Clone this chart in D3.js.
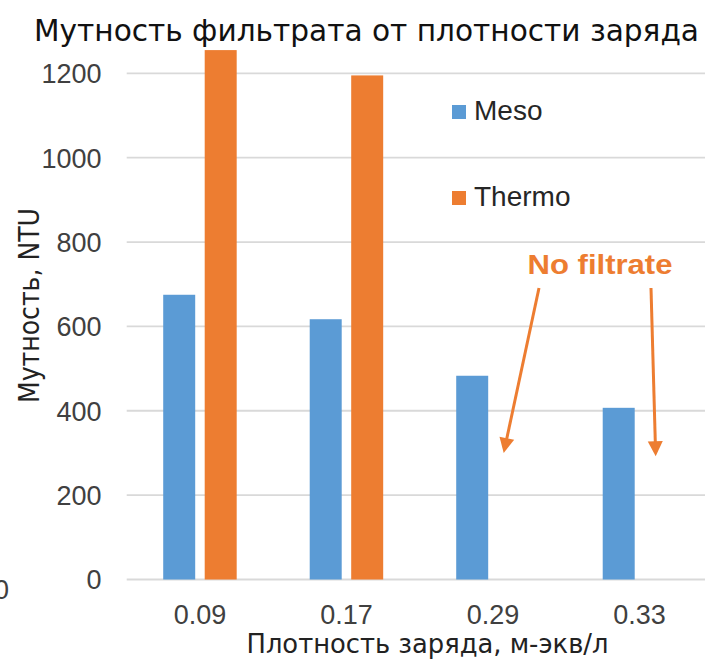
<!DOCTYPE html>
<html>
<head>
<meta charset="utf-8">
<script src="https://cdn.jsdelivr.net/npm/d3@7"></script>
<style>
html,body{margin:0;padding:0;background:#fff;}
svg{display:block;}
</style>
</head>
<body>
<svg id="chart" width="705" height="660"></svg>
<script>
// ---- data ----
const categories = ["0.09", "0.17", "0.29", "0.33"];
const seriesNames = ["Meso", "Thermo"];
const mesoValues = [675, 617, 483, 407];
const thermoValues = [1255, 1195, null, null];
const yTicks = [0, 200, 400, 600, 800, 1000, 1200];
const titleText = "Мутность фильтрата от плотности заряда";
const xTitleText = "Плотность заряда, м-экв/л";
const yTitleText = "Мутность, NTU";
const noteText = "No filtrate";
const colors = {Meso: "#5B9BD5", Thermo: "#ED7D31"};

const svg = d3.select("#chart");
const W = 705, H = 660;
const plotLeft = 126.7, plotRight = 712.7, yZero = 579.5, yTop = 73.3;

const x = d3.scaleBand().domain(categories).range([plotLeft, plotRight]).paddingInner(0).paddingOuter(0);
const xs = d3.scaleBand().domain(seriesNames).range([0, x.bandwidth()]).paddingInner(0.229).paddingOuter(0.88);
const y = d3.scaleLinear().domain([0, 1200]).range([yZero, yTop]);

// gridlines
svg.append("g").selectAll("line").data(yTicks).join("line")
  .attr("x1", plotLeft).attr("x2", W)
  .attr("y1", d => y(d)).attr("y2", d => y(d))
  .attr("stroke", "#d9d9d9").attr("stroke-width", 1.8);

// y axis labels
const yAxis = d3.axisLeft(y).tickValues(yTicks).tickSize(0).tickPadding(0).tickFormat(d3.format("d"));
const gy = svg.append("g").attr("transform", `translate(101.5,0)`).call(yAxis);
gy.select(".domain").remove();
gy.selectAll("text").attr("font-family", "Liberation Sans, Arial, sans-serif")
  .attr("font-size", 27).attr("fill", "#404040").attr("dy", "0.35em");

// x axis labels
const xAxis = d3.axisBottom(x).tickSize(0).tickPadding(0);
const gx = svg.append("g").attr("transform", `translate(0,${yZero})`).call(xAxis);
gx.select(".domain").remove();
gx.selectAll("text").attr("font-family", "Liberation Sans, Arial, sans-serif")
  .attr("font-size", 27).attr("fill", "#404040").attr("dy", null).attr("y", 44.5);

// bars
const rows = [];
categories.forEach((c, i) => {
  rows.push({cat: c, s: "Meso", v: mesoValues[i]});
  rows.push({cat: c, s: "Thermo", v: thermoValues[i]});
});
svg.append("g").selectAll("rect").data(rows.filter(d => d.v != null)).join("rect")
  .attr("x", d => x(d.cat) + xs(d.s))
  .attr("width", xs.bandwidth())
  .attr("y", d => y(d.v))
  .attr("height", d => y(0) - y(d.v))
  .attr("fill", d => colors[d.s]);

// title
svg.append("text").attr("x", 366.5).attr("y", 41).attr("text-anchor", "middle")
  .attr("font-family", "Liberation Sans Narrow, DejaVu Sans Condensed, sans-serif")
  .attr("font-size", 31).attr("fill", "#111")
  .attr("textLength", 665).attr("lengthAdjust", "spacingAndGlyphs")
  .text(titleText);

// x title
svg.append("text").attr("x", 427.5).attr("y", 653).attr("text-anchor", "middle")
  .attr("font-family", "Liberation Sans Narrow, DejaVu Sans Condensed, sans-serif")
  .attr("font-size", 27).attr("fill", "#222")
  .attr("textLength", 362).attr("lengthAdjust", "spacingAndGlyphs")
  .text(xTitleText);

// y title
svg.append("text").attr("transform", "translate(39,305.5) rotate(-90)").attr("text-anchor", "middle")
  .attr("font-family", "Liberation Sans Narrow, DejaVu Sans Condensed, sans-serif")
  .attr("font-size", 28).attr("fill", "#222")
  .attr("textLength", 195).attr("lengthAdjust", "spacingAndGlyphs")
  .text(yTitleText);

// stray clipped tick at left edge (as in the reference)
svg.append("text").attr("x", 9).attr("y", 599).attr("text-anchor", "end")
  .attr("font-family", "Liberation Sans, Arial, sans-serif")
  .attr("font-size", 27).attr("fill", "#404040").text("0");

// legend
const legend = svg.append("g").selectAll("g").data(seriesNames).join("g")
  .attr("transform", (d, i) => `translate(452,${105 + i * 86})`);
legend.append("rect").attr("width", 14).attr("height", 14).attr("fill", d => colors[d]);
legend.append("text").attr("x", 22).attr("y", 15)
  .attr("font-family", "Liberation Sans, Arial, sans-serif")
  .attr("font-size", 28).attr("fill", "#262626").text(d => d);

// annotation
svg.append("text").attr("x", 600).attr("y", 274).attr("text-anchor", "middle")
  .attr("font-family", "Liberation Sans, Arial, sans-serif").attr("font-weight", "bold")
  .attr("font-size", 28).attr("fill", "#ED7D31")
  .attr("textLength", 145).attr("lengthAdjust", "spacingAndGlyphs")
  .text(noteText);

const arrows = [
  {from: [539, 288], to: [x("0.29") + xs("Thermo") + xs.bandwidth() / 2 - 10, y(300)]},
  {from: [651, 288], to: [x("0.33") + xs("Thermo") + xs.bandwidth() / 2 - 4.5, y(292)]}
];
const ag = svg.append("g");
arrows.forEach(a => {
  const [x1, y1] = a.from, [x2, y2] = a.to;
  const dx = x2 - x1, dy = y2 - y1, L = Math.hypot(dx, dy);
  const ux = dx / L, uy = dy / L, px = -uy, py = ux;
  const headLen = 15, headW = 7.5;
  const bx = x2 - ux * headLen, by = y2 - uy * headLen;
  ag.append("line").attr("x1", x1).attr("y1", y1).attr("x2", bx + ux * 2).attr("y2", by + uy * 2)
    .attr("stroke", "#ED7D31").attr("stroke-width", 3);
  ag.append("path")
    .attr("d", `M${x2},${y2}L${bx + px * headW},${by + py * headW}L${bx - px * headW},${by - py * headW}Z`)
    .attr("fill", "#ED7D31");
});
</script>
</body>
</html>
